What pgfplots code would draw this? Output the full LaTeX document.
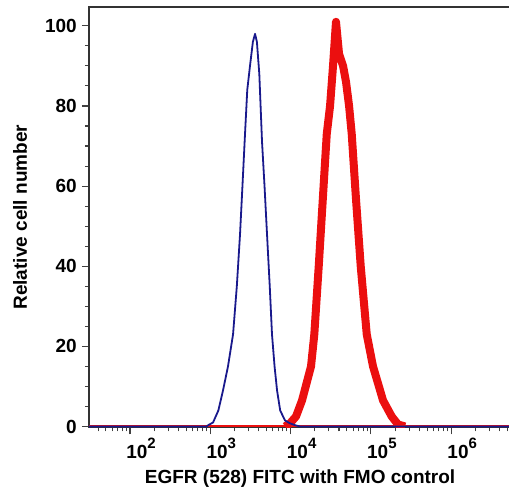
\documentclass[border=0pt]{standalone}
\usepackage{fontspec}
\setmainfont{Liberation Sans}
\usepackage{pgfplots}
\pgfplotsset{compat=1.18}
\definecolor{navy}{RGB}{25,25,140}
\definecolor{fred}{RGB}{235,15,15}
\newcommand{\tl}[1]{10\raisebox{10.5pt}{\fontsize{15}{15}\selectfont #1}}
\begin{document}
\begin{tikzpicture}
\begin{axis}[
  scale only axis, width=423pt, height=420.5pt,
  xmin=1.489, xmax=6.757, ymin=-0.25, ymax=104.7,
  tick align=outside,
  xtick pos=left, ytick pos=left,
  xtick={2,3,4,5,6},
  xticklabels={\tl{2},\tl{3},\tl{4},\tl{5},\tl{6}},
  minor xtick={1.602,1.699,1.778,1.845,1.903,1.954,
    2.301,2.477,2.602,2.699,2.778,2.845,2.903,2.954,
    3.301,3.477,3.602,3.699,3.778,3.845,3.903,3.954,
    4.301,4.477,4.602,4.699,4.778,4.845,4.903,4.954,
    5.301,5.477,5.602,5.699,5.778,5.845,5.903,5.954,
    6.301,6.477,6.602,6.699},
  ytick={0,20,40,60,80,100},
  minor ytick={5,10,15,25,30,35,45,50,55,65,70,75,85,90,95},
  major tick length=7pt, minor tick length=4pt,
  every tick/.style={black!75, line width=1.1pt},
  axis line style={black!80, line width=1.3pt},
  /pgf/number format/assume math mode=true,
  ticklabel style={font=\fontsize{19}{20}\selectfont\bfseries, inner sep=0pt},
  xticklabel style={anchor=base, yshift=-24.5pt, xshift=11pt},
  yticklabel style={anchor=east, xshift=-5pt},
  xlabel={EGFR (528) FITC with FMO control},
  ylabel={Relative cell number},
  label style={font=\fontsize{19}{20}\selectfont\bfseries},
  xlabel style={at={(axis description cs:0.499,-0.132)}, anchor=base},
  ylabel style={at={(axis description cs:-0.163,0.5)}, anchor=center},
]
\addplot[fred, line width=2pt] coordinates {(1.489,0) (6.757,0)};
\addplot[fred, line width=8pt, line join=round] coordinates {
(3.930,0) (3.993,0.8) (4.067,2.5) (4.142,6.5) (4.254,15) (4.295,23) (4.350,40) (4.400,56.5) (4.450,73) (4.491,80) (4.528,90) (4.565,101) (4.603,93) (4.653,90) (4.690,86) (4.728,80) (4.761,73) (4.815,56.5) (4.873,40) (4.948,23) (5.026,15) (5.151,6.5) (5.259,2.5) (5.338,0.5) (5.425,0)};
\addplot[navy, line width=1.8pt, line join=round] coordinates {
(1.489,0) (2.954,0) (2.971,0.3) (3.034,1) (3.100,4) (3.158,9) (3.220,15) (3.283,23) (3.330,35) (3.370,48) (3.400,60) (3.432,73) (3.460,84) (3.494,90) (3.530,96) (3.557,98) (3.580,96) (3.610,88) (3.644,71) (3.675,60) (3.706,48) (3.740,35) (3.768,23) (3.800,15) (3.831,9) (3.870,4) (3.930,1.5) (3.990,0.8) (4.060,0.3) (4.120,0) (6.757,0)};
\coordinate (O) at (rel axis cs:0,0);
\end{axis}
\pgfresetboundingbox
\path (O) ++(-89pt,-66.5pt) rectangle ++(509pt,494pt);
\end{tikzpicture}
\end{document}
